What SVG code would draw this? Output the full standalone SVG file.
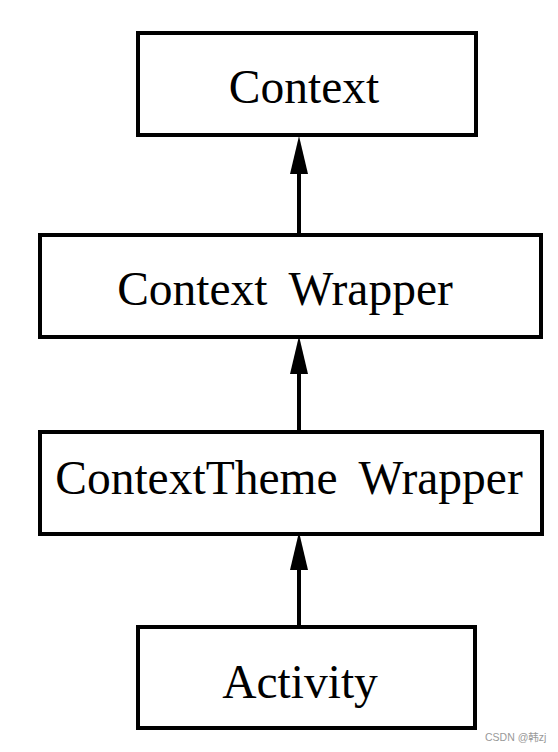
<svg xmlns="http://www.w3.org/2000/svg" width="558" height="752" viewBox="0 0 558 752">
<style>
.box{fill:#fff;stroke:#000;stroke-width:4}
.lbl{font-family:"Liberation Serif","Times New Roman",serif;font-size:47.5px;fill:#000;text-anchor:middle}
.conn{stroke:#000;stroke-width:4;fill:none;marker-end:url(#arr)}
.wm{font-family:"Liberation Sans","Noto Sans CJK SC",sans-serif;font-size:10.5px;fill:#999}
</style>
<defs>
<marker id="arr" markerUnits="userSpaceOnUse" markerWidth="38" markerHeight="18" refX="0" refY="9" orient="auto" viewBox="0 0 38 18">
<path d="M0,0 L38,9 L0,18 Z" fill="#000"/>
</marker>
</defs>
<rect width="558" height="752" fill="#fff"/>
<g id="connectors">
<line class="conn" x1="299" y1="235" x2="299" y2="174"/>
<line class="conn" x1="299" y1="432" x2="299" y2="374"/>
<line class="conn" x1="299" y1="627" x2="299" y2="570"/>
</g>
<g id="context">
<rect class="box" x="138" y="33" width="338" height="102"/>
<text class="lbl" x="304" y="103">Context</text>
</g>
<g id="context-wrapper">
<rect class="box" x="40" y="235" width="501" height="102"/>
<text class="lbl" x="285" y="305" word-spacing="10">Context Wrapper</text>
</g>
<g id="context-theme-wrapper">
<rect class="box" x="40" y="432" width="502" height="102"/>
<text class="lbl" x="289" y="494" word-spacing="10">ContextTheme Wrapper</text>
</g>
<g id="activity">
<rect class="box" x="138" y="627" width="337" height="101"/>
<text class="lbl" x="300" y="698">Activity</text>
</g>
<text class="wm" x="485" y="741">CSDN @韩zj</text>
</svg>
